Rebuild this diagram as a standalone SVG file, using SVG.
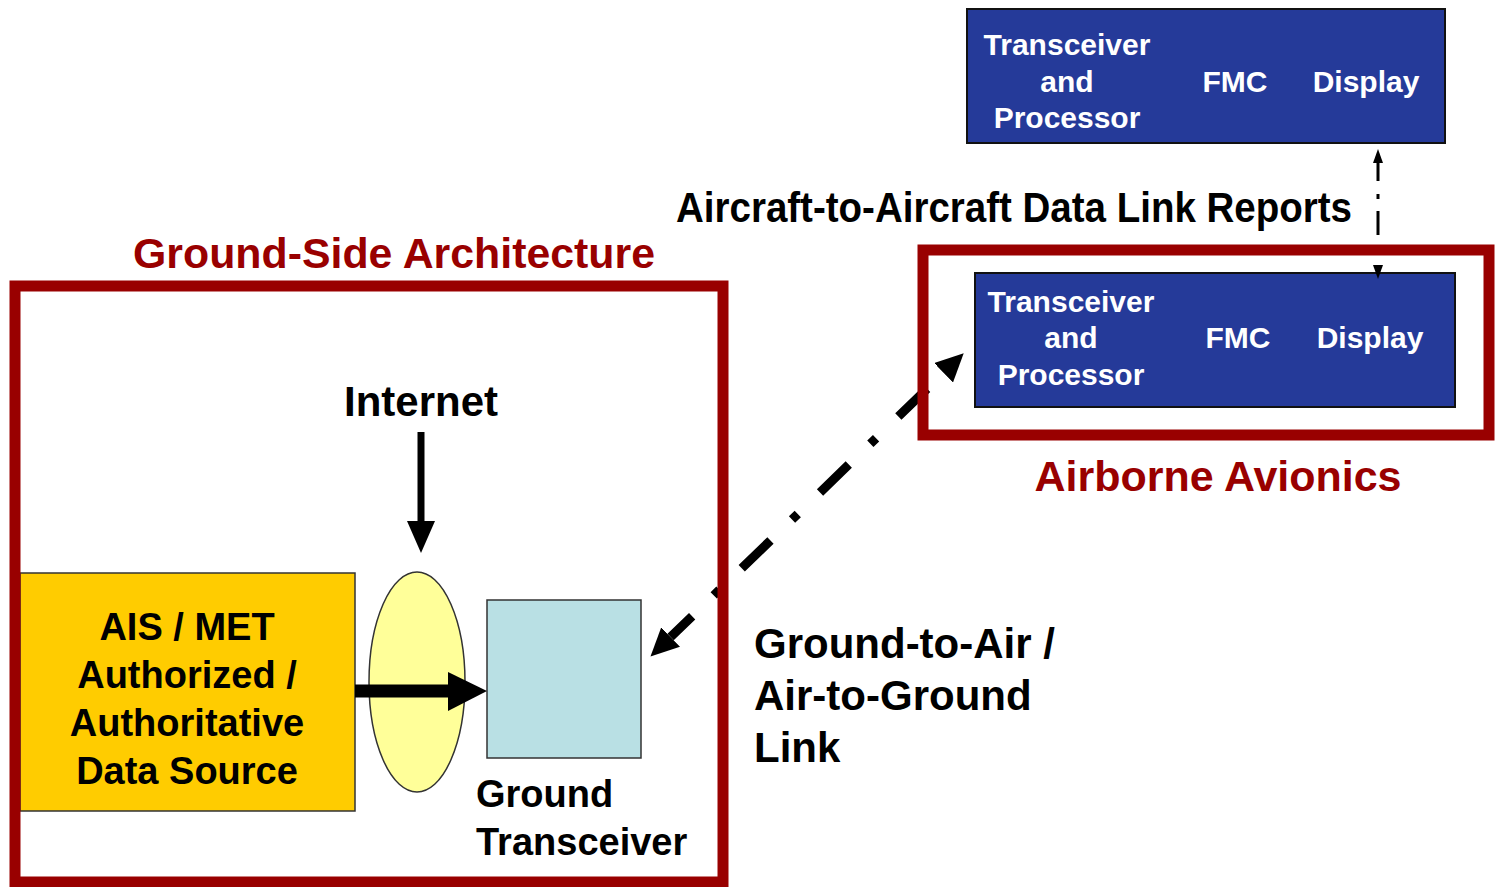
<svg xmlns="http://www.w3.org/2000/svg" width="1495" height="887" viewBox="0 0 1495 887">
<style>
.t{font-family:"Liberation Sans",Arial,sans-serif;}
.b{font-weight:bold;}
.red{fill:#990000;}
.frame{fill:none;stroke:#990000;stroke-width:11;}
.blue{fill:#253A99;stroke:#111;stroke-width:2;}
.wt{fill:#fff;font-size:30px;font-weight:bold;text-anchor:middle;}
.blk{fill:#000;}
</style>
<defs>
<marker id="bigHead" markerUnits="userSpaceOnUse" viewBox="0 0 28 27" markerWidth="28" markerHeight="27" refX="0" refY="13.5" orient="auto-start-reverse">
<path d="M0,0 L28,13.5 L0,27 z" fill="#000"/>
</marker>
<marker id="smallHead" markerUnits="userSpaceOnUse" viewBox="0 0 14 10" markerWidth="14" markerHeight="10" refX="0" refY="5" orient="auto-start-reverse">
<path d="M0,0 L14,5 L0,10 z" fill="#000"/>
</marker>
</defs>
<rect width="1495" height="887" fill="#fff"/>

<g id="aircraft-other">
<rect class="blue" x="967" y="9" width="478" height="134"/>
<text class="t wt" x="1067" y="55">Transceiver</text>
<text class="t wt" x="1067" y="92">and</text>
<text class="t wt" x="1067" y="128">Processor</text>
<text class="t wt" x="1235" y="92">FMC</text>
<text class="t wt" x="1366" y="92">Display</text>
</g>

<g id="aircraft-own">
<rect class="blue" x="975" y="273" width="480" height="134"/>
<text class="t wt" x="1071" y="312">Transceiver</text>
<text class="t wt" x="1071" y="348">and</text>
<text class="t wt" x="1071" y="385">Processor</text>
<text class="t wt" x="1238" y="348">FMC</text>
<text class="t wt" x="1370" y="348">Display</text>
</g>

<g id="data-source">
<rect x="20" y="573" width="335" height="238" fill="#FFCC00" stroke="#333" stroke-width="1.5"/>
<text class="t b blk" x="187" y="640" font-size="38" text-anchor="middle">AIS / MET</text>
<text class="t b blk" x="187" y="688" font-size="38" text-anchor="middle">Authorized /</text>
<text class="t b blk" x="187" y="736" font-size="38" text-anchor="middle">Authoritative</text>
<text class="t b blk" x="187" y="784" font-size="38" text-anchor="middle">Data Source</text>
</g>

<g id="internet-node">
<ellipse cx="417" cy="682" rx="48" ry="110" fill="#FFFF99" stroke="#333" stroke-width="1.5"/>
</g>

<g id="ground-transceiver">
<rect x="487" y="600" width="154" height="158" fill="#B9E0E4" stroke="#333" stroke-width="1.5"/>
<text class="t b blk" x="476" y="807" font-size="38">Ground</text>
<text class="t b blk" x="476" y="855" font-size="38">Transceiver</text>
</g>

<g id="labels">
<text class="t b blk" x="421" y="416" font-size="43" text-anchor="middle" textLength="154" lengthAdjust="spacingAndGlyphs">Internet</text>
<text class="t b blk" x="676" y="222" font-size="42" textLength="676" lengthAdjust="spacingAndGlyphs">Aircraft-to-Aircraft Data Link Reports</text>
<text class="t b blk" x="754" y="658" font-size="42">Ground-to-Air /</text>
<text class="t b blk" x="754" y="710" font-size="42">Air-to-Ground</text>
<text class="t b blk" x="754" y="762" font-size="42">Link</text>
<text class="t b red" x="394" y="268" font-size="42" text-anchor="middle" textLength="522" lengthAdjust="spacingAndGlyphs">Ground-Side Architecture</text>
<text class="t b red" x="1218" y="491" font-size="42" text-anchor="middle" textLength="367" lengthAdjust="spacingAndGlyphs">Airborne Avionics</text>
</g>

<g id="connectors">
<line x1="421" y1="432" x2="421" y2="522" stroke="#000" stroke-width="7"/>
<path d="M407,521 L435,521 L421,553 z" fill="#000"/>
<line x1="355" y1="691" x2="450" y2="691" stroke="#000" stroke-width="13"/>
<path d="M448,672 L487,691 L448,711 z" fill="#000"/>
<path d="M670.6,637.1 L943.6,372.8" fill="none" stroke="#000" stroke-width="9" stroke-dasharray="40 30 8 31" stroke-dashoffset="10" marker-start="url(#bigHead)" marker-end="url(#bigHead)"/>
<path d="M1378,163 L1378,265" fill="none" stroke="#000" stroke-width="3" stroke-dasharray="18 13 5 12 24 100" marker-start="url(#smallHead)" marker-end="url(#smallHead)"/>
</g>

<g id="ground-frame">
<rect class="frame" x="15" y="286" width="708" height="596"/>
</g>
<g id="airborne-frame">
<rect class="frame" x="923" y="250" width="566" height="185"/>
</g>
</svg>
